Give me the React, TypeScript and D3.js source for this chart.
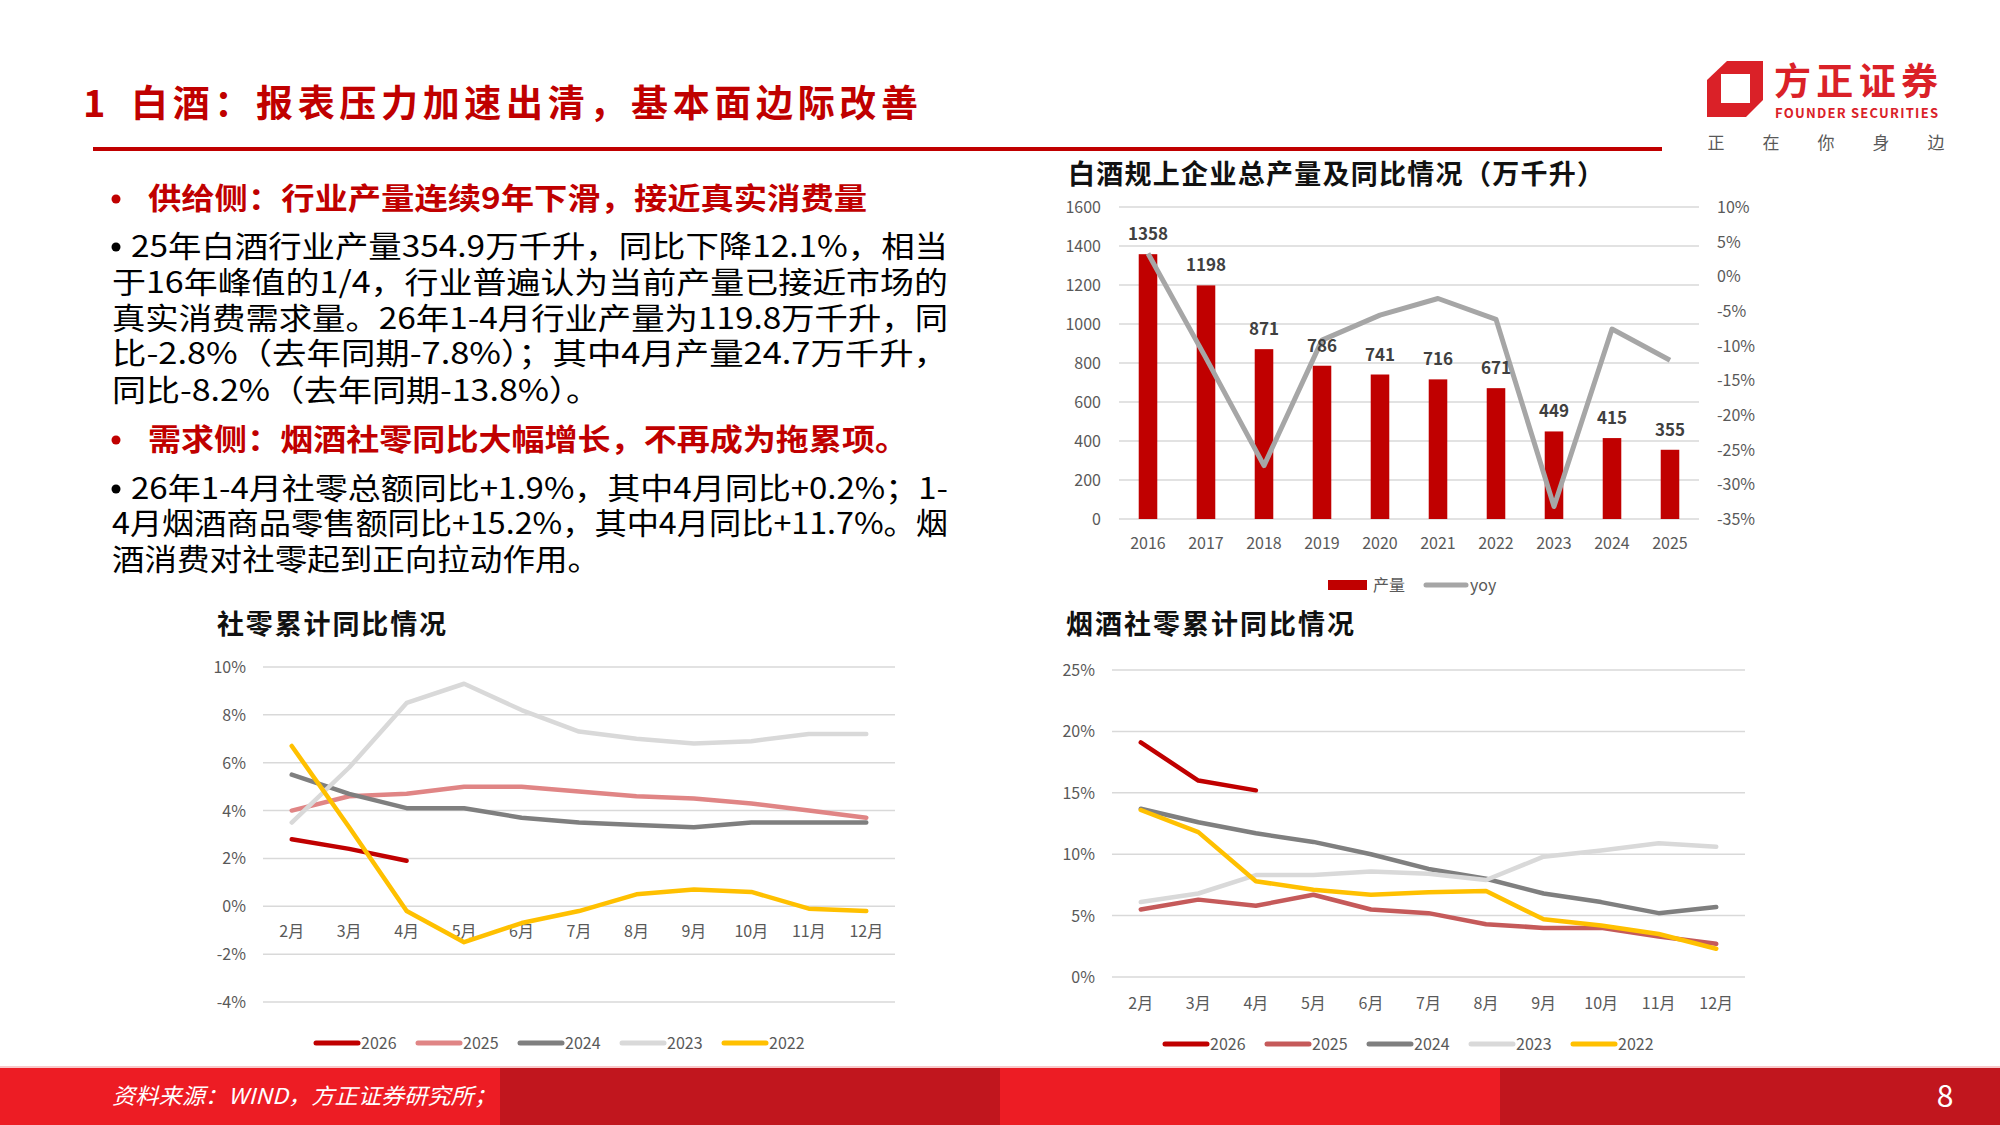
import React from 'react';
import * as d3 from 'd3';

// 白酒规上企业总产量（万千升）及同比
const years = ['2016', '2017', '2018', '2019', '2020', '2021', '2022', '2023', '2024', '2025'];
const output = [1358, 1198, 871, 786, 741, 716, 671, 449, 415, 355];
const outputYoy = [3.3, -11.8, -27.3, -9.2, -5.6, -3.2, -6.2, -33.2, -7.6, -12.1];

const months = ['2月', '3月', '4月', '5月', '6月', '7月', '8月', '9月', '10月', '11月', '12月'];
const seriesNames = ['2026', '2025', '2024', '2023', '2022'];

// 社零累计同比 (%)
const retail2026 = [2.8, 2.4, 1.9];
const retail2025 = [4.0, 4.6, 4.7, 5.0, 5.0, 4.8, 4.6, 4.5, 4.3, 4.0, 3.7];
const retail2024 = [5.5, 4.7, 4.1, 4.1, 3.7, 3.5, 3.4, 3.3, 3.5, 3.5, 3.5];
const retail2023 = [3.5, 5.8, 8.5, 9.3, 8.2, 7.3, 7.0, 6.8, 6.9, 7.2, 7.2];
const retail2022 = [6.7, 3.3, -0.2, -1.5, -0.7, -0.2, 0.5, 0.7, 0.6, -0.1, -0.2];

// 烟酒社零累计同比 (%)
const tobacco2026 = [19.1, 16.0, 15.2];
const tobacco2025 = [5.5, 6.3, 5.8, 6.7, 5.5, 5.2, 4.3, 4.0, 4.0, 3.3, 2.7];
const tobacco2024 = [13.7, 12.6, 11.7, 11.0, 10.0, 8.8, 8.0, 6.8, 6.1, 5.2, 5.7];
const tobacco2023 = [6.1, 6.8, 8.3, 8.3, 8.6, 8.4, 7.9, 9.8, 10.3, 10.9, 10.6];
const tobacco2022 = [13.6, 11.8, 7.8, 7.1, 6.7, 6.9, 7.0, 4.7, 4.2, 3.5, 2.3];

const retailTicks = [-4, -2, 0, 2, 4, 6, 8, 10];
const tobaccoTicks = [0, 5, 10, 15, 20, 25];

const bodyLines = [
  { t: '供给侧：行业产量连续9年下滑，接近真实消费量', x: 148, y: 198, len: 719, red: true, bullet: true },
  { t: '25年白酒行业产量354.9万千升，同比下降12.1%，相当', x: 131, y: 246, len: 817, bullet: true },
  { t: '于16年峰值的1/4，行业普遍认为当前产量已接近市场的', x: 112, y: 282, len: 836 },
  { t: '真实消费需求量。26年1-4月行业产量为119.8万千升，同', x: 112, y: 318, len: 836 },
  { t: '比-2.8%（去年同期-7.8%）；其中4月产量24.7万千升，', x: 112, y: 353, len: 836 },
  { t: '同比-8.2%（去年同期-13.8%）。', x: 112, y: 390, len: 488 },
  { t: '需求侧：烟酒社零同比大幅增长，不再成为拖累项。', x: 148, y: 439, len: 760, red: true, bullet: true },
  { t: '26年1-4月社零总额同比+1.9%，其中4月同比+0.2%；1-', x: 131, y: 488, len: 817, bullet: true },
  { t: '4月烟酒商品零售额同比+15.2%，其中4月同比+11.7%。烟', x: 112, y: 523, len: 836 },
  { t: '酒消费对社零起到正向拉动作用。', x: 112, y: 559, len: 488 },
];

const FONT = '"Noto Sans CJK SC", "Noto Sans", sans-serif';
const RED = '#C00000';
const AXIS = '#595959';
const GRID = '#D9D9D9';

function LineChart({ title, titleLen, left, right, top, bottom, domain, ticks, labelY, legendY, series, colors }) {
  const x = d3.scaleBand().domain(months).range([left, right]);
  const y = d3.scaleLinear().domain(domain).range([bottom, top]);
  const line = d3
    .line<number>()
    .x((d, i) => x(months[i])! + x.bandwidth() / 2)
    .y(d => y(d));
  return (
    <g fontFamily={FONT}>
      <text x={left - 46} y={634} fontSize={27} fontWeight="bold" fill="#111" textLength={titleLen}>
        {title}
      </text>
      {ticks.map(t => (
        <g key={t}>
          <line x1={left} x2={right} y1={y(t)} y2={y(t)} stroke={GRID} strokeWidth={1.5} />
          <text x={left - 17} y={y(t) + 6} textAnchor="end" fontSize={16} fill={AXIS}>
            {t}%
          </text>
        </g>
      ))}
      {months.map(m => (
        <text key={m} x={x(m)! + x.bandwidth() / 2} y={labelY} textAnchor="middle" fontSize={16} fill={AXIS}>
          {m}
        </text>
      ))}
      {series.map((s, i) => (
        <path
          key={i}
          d={line(s)!}
          fill="none"
          stroke={colors[i]}
          strokeWidth={4.5}
          strokeLinejoin="round"
          strokeLinecap="round"
        />
      ))}
      {seriesNames.map((n, i) => (
        <g key={n} transform={`translate(${left + 53 + i * 102},${legendY})`}>
          <line x1={0} x2={42} y1={0} y2={0} stroke={colors[i]} strokeWidth={5} strokeLinecap="round" />
          <text x={45} y={6} fontSize={16} fill={AXIS}>
            {n}
          </text>
        </g>
      ))}
    </g>
  );
}

function BarChart() {
  const x = d3.scaleBand().domain(years).range([1119, 1699]).paddingInner(0.68).paddingOuter(0.34);
  const yL = d3.scaleLinear().domain([0, 1600]).range([519, 207]);
  const yR = d3.scaleLinear().domain([-35, 10]).range([519, 207]);
  const cx = (yr: string) => x(yr)! + x.bandwidth() / 2;
  const yoyLine = d3
    .line<number>()
    .x((d, i) => cx(years[i]))
    .y(d => yR(d));
  return (
    <g fontFamily={FONT}>
      <text x={1068} y={184} fontSize={27} fontWeight="bold" fill="#111" textLength={536}>
        白酒规上企业总产量及同比情况（万千升）
      </text>
      {d3.range(0, 1601, 200).map(t => (
        <g key={t}>
          <line x1={1119} x2={1699} y1={yL(t)} y2={yL(t)} stroke={GRID} strokeWidth={1.5} />
          <text x={1101} y={yL(t) + 6} textAnchor="end" fontSize={16} fill={AXIS}>
            {t}
          </text>
        </g>
      ))}
      {d3.range(-35, 11, 5).map(t => (
        <text key={t} x={1717} y={yR(t) + 6} fontSize={16} fill={AXIS}>
          {t}%
        </text>
      ))}
      {years.map((yr, i) => (
        <rect key={yr} x={x(yr)} y={yL(output[i])} width={x.bandwidth()} height={519 - yL(output[i])} fill={RED} />
      ))}
      <path d={yoyLine(outputYoy)!} fill="none" stroke="#A6A6A6" strokeWidth={5} strokeLinejoin="round" />
      {years.map((yr, i) => (
        <text
          key={yr}
          x={cx(yr)}
          y={yL(output[i]) - 14}
          textAnchor="middle"
          fontSize={17}
          fontWeight="bold"
          fill="#404040"
        >
          {output[i]}
        </text>
      ))}
      {years.map(yr => (
        <text key={yr} x={cx(yr)} y={549} textAnchor="middle" fontSize={16} fill={AXIS}>
          {yr}
        </text>
      ))}
      <rect x={1328} y={580} width={39} height={10} fill={RED} />
      <text x={1373} y={591} fontSize={16} fill={AXIS}>
        产量
      </text>
      <line x1={1426} x2={1466} y1={585} y2={585} stroke="#A6A6A6" strokeWidth={5} strokeLinecap="round" />
      <text x={1470} y={591} fontSize={16} fill={AXIS}>
        yoy
      </text>
    </g>
  );
}

export default function App() {
  return (
    <div style={{ position: 'absolute', left: 0, top: 0 }}>
      <svg width={2000} height={1125} style={{ display: 'block', background: '#fff' }}>
        {/* header */}
        <g fontFamily={FONT}>
          <text x={83} y={117} fontSize={38} fontWeight="bold" fill={RED}>
            1
          </text>
          <text x={131} y={117} fontSize={37} fontWeight="bold" fill={RED} textLength={787}>
            白酒：报表压力加速出清，基本面边际改善
          </text>
          <rect x={93} y={147} width={1569} height={4} fill={RED} />
          {/* logo */}
          <path d="M1727,61 L1763,61 L1763,100 L1746,117 L1707,117 L1707,80 Z" fill="#DA2128" />
          <rect x={1721} y={74} width={29} height={29} fill="#fff" />
          <text x={1774} y={95} fontSize={37} fontWeight="bold" fill="#DA2128" textLength={164}>
            方正证券
          </text>
          <text x={1775} y={118} fontSize={13} fontWeight="bold" fill="#DA2128" textLength={163}>
            FOUNDER SECURITIES
          </text>
          {['正', '在', '你', '身', '边'].map((c, i) => (
            <text key={c} x={1716 + i * 55} y={149} textAnchor="middle" fontSize={17} fill={AXIS}>
              {c}
            </text>
          ))}
        </g>

        {/* body text */}
        <g fontFamily={FONT}>
          {bodyLines.map((l, i) => (
            <g key={i}>
              {l.bullet && <circle cx={116} cy={l.y + 1} r={4.5} fill={l.red ? RED : '#000'} />}
              <text
                x={l.x}
                y={l.y + 11}
                fontSize={30}
                fontWeight={l.red ? 'bold' : 'normal'}
                fill={l.red ? RED : '#000'}
                textLength={l.len}
                lengthAdjust="spacingAndGlyphs"
              >
                {l.t}
              </text>
            </g>
          ))}
        </g>

        <BarChart />

        <LineChart
          title="社零累计同比情况"
          titleLen={229}
          left={263}
          right={895}
          top={667}
          bottom={1002}
          domain={[-4, 10]}
          ticks={retailTicks}
          labelY={937}
          legendY={1043}
          series={[retail2026, retail2025, retail2024, retail2023, retail2022]}
          colors={[RED, '#E08585', '#7F7F7F', '#D9D9D9', '#FFC000']}
        />
        <LineChart
          title="烟酒社零累计同比情况"
          titleLen={288}
          left={1112}
          right={1745}
          top={670}
          bottom={977}
          domain={[0, 25]}
          ticks={tobaccoTicks}
          labelY={1009}
          legendY={1044}
          series={[tobacco2026, tobacco2025, tobacco2024, tobacco2023, tobacco2022]}
          colors={[RED, '#C55A5A', '#7F7F7F', '#D9D9D9', '#FFC000']}
        />

        {/* footer */}
        <rect x={0} y={1066} width={2000} height={2} fill="#F8C8CA" />
        {[0, 1, 2, 3].map(i => (
          <rect key={i} x={i * 500} y={1068} width={500} height={57} fill={i % 2 === 0 ? '#ED1C24' : '#C1161E'} />
        ))}
        <text
          x={112}
          y={1104}
          fontFamily={FONT}
          fontSize={22}
          fontStyle="italic"
          fill="#fff"
          textLength={385}
          lengthAdjust="spacingAndGlyphs"
        >
          资料来源：WIND，方正证券研究所；
        </text>
        <text x={1945} y={1107} textAnchor="middle" fontFamily={FONT} fontSize={30} fill="#fff">
          8
        </text>
      </svg>
    </div>
  );
}
